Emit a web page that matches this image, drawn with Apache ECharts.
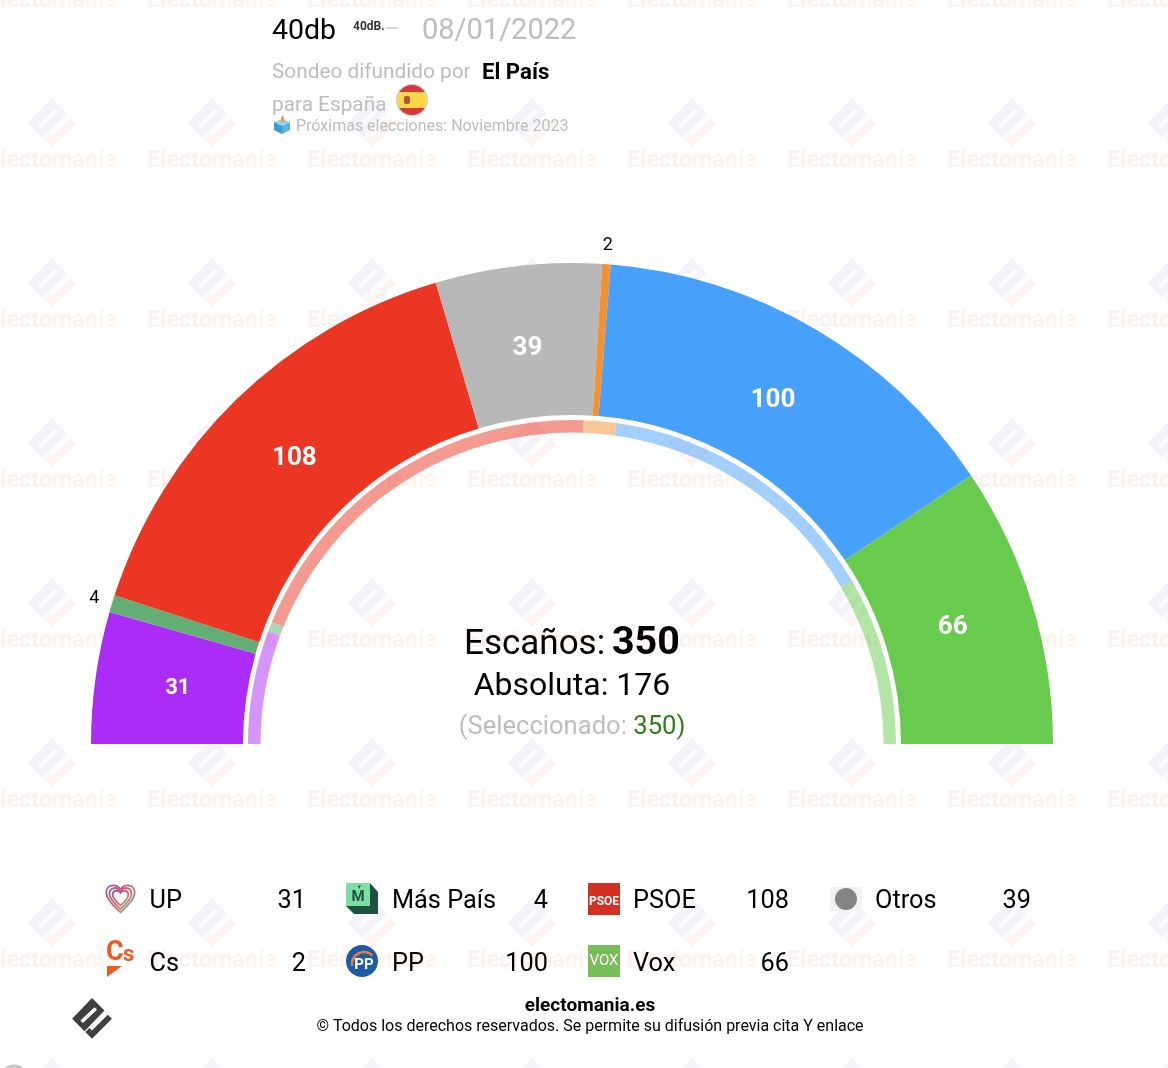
<!DOCTYPE html>
<html>
<head>
<meta charset="utf-8">
<style>html,body{margin:0;padding:0;background:#fff}#c{width:1168px;height:1068px}</style>
<script src="https://cdn.jsdelivr.net/npm/echarts@6/dist/echarts.min.js"></script>
</head>
<body>
<div id="c"></div>
<script>
// ---- data ----
const parties = ['UP', 'Más País', 'PSOE', 'Otros', 'Cs', 'PP', 'Vox'];
const seats = [31, 4, 108, 39, 2, 100, 66];
const previousParties = ['UP', 'Más País', 'PSOE', 'Cs', 'PP', 'Vox'];
const previousSeats = [35, 3, 120, 10, 89, 52];
const legendRow1 = ['UP', 'Más País', 'PSOE', 'Otros'];
const legendRow2 = ['Cs', 'PP', 'Vox'];
const totalSeats = 350;
const majority = 176;
const selectedSeats = 350;

// ---- styles ----
const colors = { 'UP': '#AB2BF7', 'Más País': '#62AE75', 'PSOE': '#EC3624', 'Otros': '#B8B8B8', 'Cs': '#F39232', 'PP': '#47A0FA', 'Vox': '#68CB4E' };
const F = 'Roboto';
const CX = 572, CY = 744;
const g = [];

echarts.graphic.registerShape('heart', echarts.graphic.extendShape({
  shape: { x: 0, y: 0, w: 24, h: 22 },
  buildPath(ctx, s) {
    const X = v => s.x + v / 24 * s.w, Y = v => s.y + v / 22 * s.h;
    ctx.moveTo(X(12), Y(21.5));
    ctx.bezierCurveTo(X(5), Y(15.5), X(1), Y(11), X(1), Y(6.5));
    ctx.bezierCurveTo(X(1), Y(3), X(3.5), Y(1), X(6.5), Y(1));
    ctx.bezierCurveTo(X(8.8), Y(1), X(10.8), Y(2.2), X(12), Y(4));
    ctx.bezierCurveTo(X(13.2), Y(2.2), X(15.2), Y(1), X(17.5), Y(1));
    ctx.bezierCurveTo(X(20.5), Y(1), X(23), Y(3), X(23), Y(6.5));
    ctx.bezierCurveTo(X(23), Y(11), X(19), Y(15.5), X(12), Y(21.5));
    ctx.closePath();
  }
}));

function txt(x, y, text, size, fill, opt) {
  opt = opt || {};
  g.push({ type: 'text', x: x, y: y + 2, z: opt.z == null ? 5 : opt.z, silent: true, style: Object.assign({
    text: text, font: (opt.weight || 'normal') + ' ' + size + 'px ' + F, fill: fill,
    textAlign: opt.align || 'left', textVerticalAlign: 'middle'
  }, opt.style || {}) });
}
function poly(points, fill, z) {
  g.push({ type: 'polygon', z: z == null ? 5 : z, silent: true, shape: { points: points }, style: { fill: fill } });
}
function logo(cx, cy, a, b, slot, z, k) {
  k = k || 1;
  const s = pts => pts.map(p => [cx + p[0] * k, cy + p[1] * k]);
  poly(s([[-24,1],[0,-24],[15,-9],[-9,16]]), a, z);
  poly(s([[-14,3],[3,-13],[6,-10],[-11,6]]), slot, z);
  poly(s([[-8,17],[-3,12],[0,15],[19,-4],[24,1],[0,25]]), b, z);
}

// watermark
const wmFont = 'bold 23.4px ' + F;
for (let j = 0; j < 8; j++) for (let i = 0; i < 8; i++) {
  const x = 52 + 160 * i, y = -38 + 160 * j;
  logo(x, y, '#f6f2f9', '#fdf4f1', '#ffffff', 0);
  g.push({ type: 'text', x: x, y: y + 39, z: 0, silent: true, style: {
    text: '{a|Electo}{b|ma}{c|nía}', textAlign: 'center', textVerticalAlign: 'middle',
    rich: { a: { font: wmFont, fill: '#fcf1f1' }, b: { font: wmFont, fill: '#fdf3ef' }, c: { font: wmFont, fill: '#fef5ec' } }
  } });
}

// header
txt(272, 30, '40db', 28.5, '#000');
txt(353, 25, '40dB.', 12, '#333', { weight: 'bold', style: {} });
g.push({ type: 'rect', z: 5, silent: true, shape: { x: 386, y: 27, width: 12, height: 2 }, style: { fill: '#d8d8d8' } });
txt(422, 30, '08/01/2022', 29, '#bdbdbd');
txt(272, 71, 'Sondeo difundido por', 20.8, '#bdbdbd');
txt(482, 71, 'El País', 22.2, '#000', { weight: 'bold' });
txt(272, 104, 'para España', 20.8, '#bdbdbd');
txt(296, 125, 'Próximas elecciones: Noviembre 2023', 16, '#bdbdbd');

// flag
function chord(cx, cy, r, y0, y1) {
  const pts = [];
  for (let k = 0; k <= 24; k++) {
    const y = y0 + (y1 - y0) * k / 24;
    pts.push([cx - Math.sqrt(Math.max(0, r * r - (y - cy) * (y - cy))), y]);
  }
  for (let k = 24; k >= 0; k--) {
    const y = y0 + (y1 - y0) * k / 24;
    pts.push([cx + Math.sqrt(Math.max(0, r * r - (y - cy) * (y - cy))), y]);
  }
  return pts;
}
g.push({ type: 'circle', z: 5, silent: true, shape: { cx: 412, cy: 100, r: 15.5 }, style: { fill: '#f8d648', stroke: '#d5d5d5', lineWidth: 1.5 } });
poly(chord(412, 100, 15, 85, 92), '#d8393f', 6);
poly(chord(412, 100, 15, 108, 115), '#d8393f', 6);
g.push({ type: 'rect', z: 6, silent: true, shape: { x: 404, y: 96, width: 6, height: 8, r: 2 }, style: { fill: '#b5523a' } });

// ballot box
poly([[282,119],[290,122],[282,126],[274,122]], '#8fd3ec');
poly([[274,122],[282,126],[282,134],[274,130]], '#3a9bcd');
poly([[290,122],[282,126],[282,134],[290,130]], '#58b3dc');
poly([[281,118],[282.5,115],[284,118],[284,122],[281,122]], '#ef9a3b');

// centre texts
txt(464, 643.5, 'Escaños:', 35, '#000');
txt(612, 642.5, String(totalSeats), 39.4, '#000', { weight: 'bold' });
txt(572, 685, 'Absoluta: ' + majority, 32, '#000', { align: 'center' });
g.push({ type: 'text', x: 572, y: 728, z: 5, silent: true, style: {
  text: '{a|(Seleccionado: }{b|' + selectedSeats + ')}', textAlign: 'center', textVerticalAlign: 'middle',
  rich: { a: { font: '25.6px ' + F, fill: '#bdbdbd' }, b: { font: '25.6px ' + F, fill: '#2e7d1a' } }
} });

// legend text
const columnsName = [149.5, 392, 633, 875];
const columnsValue = [306, 548, 789, 1031];
legendRow1.forEach((p, i) => {
  txt(columnsName[i], 900, p, 25.3, '#000');
  txt(columnsValue[i], 900, String(seats[parties.indexOf(p)]), 25.3, '#000', { align: 'right' });
});
legendRow2.forEach((p, i) => {
  txt(columnsName[i], 963, p, 25.3, '#000');
  txt(columnsValue[i], 963, String(seats[parties.indexOf(p)]), 25.3, '#000', { align: 'right' });
});

// legend icons: UP
const heartGrad = new echarts.graphic.LinearGradient(0, 0, 0.9, 1, [
  { offset: 0, color: '#8a55a8' }, { offset: 0.4, color: '#c9607e' }, { offset: 0.55, color: '#d8636a' }, { offset: 0.75, color: '#a8907a' }, { offset: 1, color: '#6fae62' }]);
[[105,884,31,29],[108.5,887,24,22.5],[112,890,17,16]].forEach(h => {
  g.push({ type: 'heart', z: 5, silent: true, shape: { x: h[0], y: h[1], w: h[2], h: h[3] },
    style: { fill: 'none', stroke: heartGrad, lineWidth: 1.8 } });
});
// Cs
txt(106, 951, 'C', 27, '#ee5a24', { weight: 'bold' });
txt(123, 953, 's', 22, '#ee5a24', { weight: 'bold' });
poly([[107,966],[122,966],[107,977]], '#ee5a24');
// Más País
poly([[370,883],[378,892],[378,914],[354,914],[346,906],[370,906]], '#1f5040');
g.push({ type: 'rect', z: 5, silent: true, shape: { x: 346, y: 883, width: 24, height: 23 }, style: { fill: '#7ce0a4' } });
txt(358, 895, 'M', 15, '#1f5040', { align: 'center', weight: 'bold' });
poly([[358,886],[361,885],[359,889]], '#1f5040');
// PP
g.push({ type: 'circle', z: 5, silent: true, shape: { cx: 362, cy: 961, r: 16 }, style: { fill: '#1f5aa6' } });
g.push({ type: 'arc', z: 6, silent: true, shape: { cx: 364, cy: 964, r: 12, startAngle: Math.PI * 0.95, endAngle: Math.PI * 1.75, clockwise: true }, style: { stroke: '#e8812c', lineWidth: 2.5, fill: 'none' } });
txt(364, 963, 'PP', 15, '#fff', { align: 'center', weight: 'bold', z: 7 });
// PSOE
g.push({ type: 'rect', z: 5, silent: true, shape: { x: 588, y: 883, width: 32, height: 32 }, style: { fill: '#d32f23' } });
txt(604, 900, 'PSOE', 12, '#fff', { align: 'center', weight: 'bold', z: 6 });
// Vox
g.push({ type: 'rect', z: 5, silent: true, shape: { x: 588, y: 945, width: 32, height: 32 }, style: { fill: '#77bd58' } });
txt(604, 959, 'VOX', 15, '#fff', { align: 'center', z: 6 });
// Otros
g.push({ type: 'rect', z: 5, silent: true, shape: { x: 830, y: 887, width: 32, height: 24 }, style: { fill: '#f2f2f2' } });
g.push({ type: 'circle', z: 6, silent: true, shape: { cx: 846, cy: 899, r: 11 }, style: { fill: '#848484' } });

// footer
txt(590, 1004, 'electomania.es', 19, '#000', { align: 'center', weight: 'bold' });
txt(590, 1025, '© Todos los derechos reservados. Se permite su difusión previa cita Y enlace', 16, '#000', { align: 'center' });
logo(92, 1018, '#3f3f3f', '#3f3f3f', '#ffffff', 5, 0.83);
g.push({ type: 'circle', z: 5, silent: true, shape: { cx: 14, cy: 1079, r: 13 }, style: { fill: 'none', stroke: '#c4c4c4', lineWidth: 3 } });

function pie(radius, data, extra) {
  return Object.assign({
    type: 'pie', center: [CX, CY], radius: radius, startAngle: 180, endAngle: 0, clockwise: true,
    silent: true, animation: false, avoidLabelOverlap: false, minAngle: 0,
    labelLine: { show: false }, label: { show: false }, data: data
  }, extra || {});
}
const clear = { color: 'rgba(0,0,0,0)' };
const isSmall = v => v < 10;

const option = {
  backgroundColor: '#fff',
  animation: false,
  graphic: { elements: g },
  series: [
    pie([329, 481], parties.map((p, i) => ({ name: p, value: seats[i], itemStyle: { color: colors[p] } }))),
    pie([311.5, 324], previousParties.map((p, i) => ({ name: p, value: previousSeats[i], itemStyle: { color: colors[p], opacity: 0.5 } }))),
    // labels inside the wedges
    pie([309, 481], parties.map((p, i) => ({
      name: p, value: seats[i], itemStyle: clear,
      label: { show: !isSmall(seats[i]), position: 'inside', formatter: '{c}', color: '#fff', fontFamily: F, fontWeight: 'bold', fontSize: seats[i] < 35 ? 21.5 : 26 }
    })), { z: 4 }),
    // labels of the small wedges, outside the ring
    pie([491, 502], parties.map((p, i) => ({
      name: p, value: seats[i], itemStyle: clear,
      label: { show: isSmall(seats[i]), position: 'inside', formatter: '{c}', color: '#000', fontFamily: F, fontSize: 18 }
    })), { z: 4 })
  ]
};
const chart = echarts.init(document.getElementById('c'), null, { renderer: 'canvas' });
chart.setOption(option);
</script>
</body>
</html>
